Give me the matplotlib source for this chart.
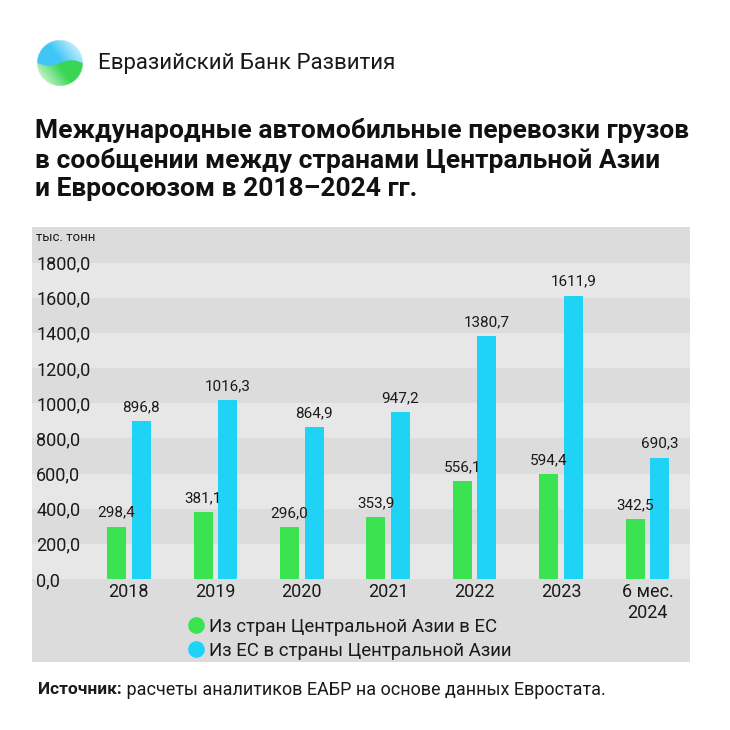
import matplotlib
matplotlib.use("Agg")
import matplotlib.pyplot as plt
from matplotlib.patches import Rectangle, Circle
from matplotlib.lines import Line2D
import matplotlib.ticker as mticker
import numpy as np

plt.rcParams['font.family'] = ['Roboto', 'DejaVu Sans']

categories = ["2018", "2019", "2020", "2021", "2022", "2023", "6 мес.\n2024"]
from_ca = [298.4, 381.1, 296.0, 353.9, 556.1, 594.4, 342.5]
from_eu = [896.8, 1016.3, 864.9, 947.2, 1380.7, 1611.9, 690.3]
series_names = ["Из стран Центральной Азии в ЕС", "Из ЕС в страны Центральной Азии"]
yticks = [0, 200, 400, 600, 800, 1000, 1200, 1400, 1600, 1800]

GREEN = '#3be350'
BLUE = '#1fd3f7'
LIGHT = '#e7e7e7'
DARK = '#dcdcdc'
TXT = '#1a1a1a'

W = H = 730
fig = plt.figure(figsize=(7.3, 7.3), dpi=100)
fig.patch.set_facecolor('white')

def fx(px):
    return px / W

def fy(py):
    return 1 - py / H

# gray panel
fig.patches.append(Rectangle((fx(32), fy(662)), fx(690) - fx(32), fy(227) - fy(662),
                             transform=fig.transFigure, facecolor=DARK, edgecolor='none', zorder=-5))

# logo (gradient emblem)
lax = fig.add_axes([fx(37), fy(86), fx(46), fx(46)])
lax.set_xlim(-1, 1); lax.set_ylim(-1, 1); lax.set_aspect('equal'); lax.axis('off')
n = 200
u, v = np.meshgrid(np.linspace(-1, 1, n), np.linspace(1, -1, n))
img = np.ones((n, n, 4))
blue_rgb = np.array([0.25, 0.78, 0.97])
green_rgb = np.array([0.22, 0.84, 0.33])
upper = v > 0.12 * np.sin(np.pi * u)
a_blue = np.clip(1.0 - 0.75 * np.clip((u + 0.1) * 0.8 + (v - 0.3) * 0.6, 0, 1), 0, 1)
a_green = np.clip(1.0 - 0.75 * np.clip((-u + 0.1) * 0.8 + (-v - 0.3) * 0.6, 0, 1), 0, 1)
alpha = np.where(upper, a_blue, a_green)
for k in range(3):
    img[..., k] = np.where(upper, blue_rgb[k], green_rgb[k])
img[..., 3] = alpha * ((u ** 2 + v ** 2) <= 1)
lax.imshow(img, extent=(-1, 1, -1, 1), interpolation='bilinear')
fig.text(fx(98), fy(64), "Евразийский Банк Развития", fontsize=16, color=TXT,
         ha='left', va='center')

# title
fig.text(fx(35), fy(118), "Международные автомобильные перевозки грузов\n"
         "в сообщении между странами Центральной Азии\n"
         "и Евросоюзом в 2018–2024 гг.",
         fontsize=19, fontweight='bold', color='#111111', ha='left', va='top',
         linespacing=1.23)

# main axes
ax = fig.add_axes([fx(32), fy(579), fx(690) - fx(32), fy(227) - fy(579)])
ax.patch.set_alpha(0)
ax.set_xlim(-1.12, 6.49)
ax.set_ylim(0, 2002)
for s in ax.spines.values():
    s.set_visible(False)

for i, lo in enumerate(yticks):
    if i % 2 == 0:
        ax.axhspan(lo, lo + 200, color=LIGHT, zorder=0, lw=0)

x = list(range(len(categories)))
bw = 0.22
off = 0.142
xg = [xi - off for xi in x]
xb = [xi + off for xi in x]
ax.bar(xg, from_ca, width=bw, color=GREEN, zorder=2)
ax.bar(xb, from_eu, width=bw, color=BLUE, zorder=2)

def fmt(val):
    return f"{val:.1f}".replace('.', ',')

for xs, vals in ((xg, from_ca), (xb, from_eu)):
    for xi, val in zip(xs, vals):
        ax.annotate(fmt(val), (xi, val), xytext=(0, 5), textcoords='offset points',
                    ha='center', va='bottom', fontsize=11, color=TXT, zorder=3)

ax.set_yticks(yticks)
ax.yaxis.set_major_formatter(mticker.FuncFormatter(lambda val, p: fmt(val)))
ax.tick_params(axis='y', length=0, pad=-3, labelsize=13, labelcolor=TXT)
for lab in ax.get_yticklabels():
    lab.set_ha('left')
ax.set_xticks(x)
ax.set_xticklabels(categories, linespacing=1.2)
ax.tick_params(axis='x', length=0, pad=3, labelsize=13, labelcolor=TXT)

ax.text(0.006, 2002 - 60, "тыс. тонн", transform=ax.get_yaxis_transform(),
        fontsize=9.5, color=TXT, ha='left', va='center')

handles = [Line2D([], [], marker='o', linestyle='none', markersize=11, color=GREEN),
           Line2D([], [], marker='o', linestyle='none', markersize=11, color=BLUE)]
fig.legend(handles, series_names, loc='upper left', bbox_to_anchor=(fx(185), fy(618)),
           frameon=False, fontsize=13.4, handletextpad=0.1, labelspacing=0.3,
           borderaxespad=0, borderpad=0, labelcolor=TXT, handlelength=1.2)

src_b = fig.text(fx(38), fy(690), "Источник:", fontsize=12.5, fontweight='bold', color=TXT,
                 ha='left', va='center')
ax.annotate(" расчеты аналитиков ЕАБР на основе данных Евростата.", xy=(1, 0.5),
            xycoords=src_b, ha='left', va='center', fontsize=13, color=TXT,
            annotation_clip=False)

fig.savefig("out.png", dpi=100, facecolor='white')
